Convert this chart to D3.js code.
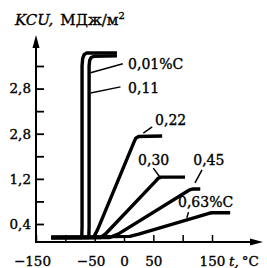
<!DOCTYPE html>
<html><head><meta charset="utf-8">
<script src="https://cdn.jsdelivr.net/npm/d3@7"></script>
<style>
html,body{margin:0;padding:0;background:#fff;}
svg{display:block;}
text{font-family:"DejaVu Serif",serif;fill:#000;stroke:#000;stroke-width:0.35px;}
</style></head>
<body>
<svg id="c" width="267" height="268"></svg>
<script>
// ---- data ----
const xTicks = [-150, -100, -50, 0, 50, 100, 150];
const xTickLabels = ["−150", "", "−50", "0", "50", "", "150"];
const yTicks = [0.4, 0.8, 1.2, 1.6, 2.0, 2.4, 2.8, 3.2];
const yTickLabels = ["0,4", "", "1,2", "", "2,8", "", "2,8", ""];

const c001 = [[-124,0.16],[-72,0.16],[-71.5,0.35],[-71.5,3.2],[-70.5,3.33],[-68,3.40],[-64,3.43],[-12,3.43]];
const c011 = [[-124,0.16],[-60,0.16],[-59.5,0.35],[-59.5,3.2],[-58.5,3.30],[-56,3.35],[-52,3.37],[-12,3.38]];
const c022 = [[-124,0.16],[-52,0.16],[-45,0.3],[17,1.85],[20,1.92],[25,1.95],[65,1.96]];
const c030 = [[-124,0.16],[-40,0.16],[-30,0.24],[54,1.16],[58,1.21],[63,1.23],[104,1.23]];
const c045 = [[-124,0.16],[-25,0.16],[-10,0.22],[108,0.98],[113,1.01],[118,1.02],[130,1.02]];
const c063 = [[-124,0.16],[10,0.18],[25,0.22],[145,0.59],[150,0.6],[181,0.6]];
const curves = [c001, c011, c022, c030, c045, c063];

const curveNames = ["0,01%C", "0,11", "0,22", "0,30", "0,45", "0,63%C"];
const labelAnchors = [[7,3.14],[7,2.72],[53,2.15],[24,1.45],[118,1.45],[92,0.70]];
const leaders = [
  [[-57,3.08],[-2,3.24]],
  [[-57,2.72],[-6,2.83]],
  [[33,2.01],[48,2.12]],
  [[50,1.39],[62,1.22]],
  [[133,1.36],[121,1.13]],
  [[107,0.51],[110,0.61]]
];

// ---- scales ----
const svg = d3.select("#c");
const x = d3.scaleLinear().domain([-150,150]).range([36,212]);
const y = d3.scaleLinear().domain([0.4,3.2]).range([224,66]);
const axisY = 242;

// axes lines with arrows
svg.append("line").attr("x1",x(-150)).attr("x2",x(-150)).attr("y1",axisY+1).attr("y2",44)
  .attr("stroke","#000").attr("stroke-width",2);
svg.append("path").attr("d",`M${x(-150)},35 L${x(-150)-3.5},48 L${x(-150)+3.5},48 Z`).attr("fill","#000");
svg.append("line").attr("x1",x(-150)-1).attr("x2",254).attr("y1",axisY).attr("y2",axisY)
  .attr("stroke","#000").attr("stroke-width",2);
svg.append("path").attr("d",`M263,${axisY} L250,${axisY-3.5} L250,${axisY+3.5} Z`).attr("fill","#000");

// y axis ticks
const gy = svg.append("g").attr("transform",`translate(${x(-150)},0)`)
  .call(d3.axisLeft(y).tickValues(yTicks).tickSizeInner(-8).tickSizeOuter(0).tickPadding(5)
    .tickFormat((d,i)=>yTickLabels[i]));
gy.select(".domain").remove();
gy.selectAll(".tick line").attr("stroke","#000").attr("stroke-width",1.8);
gy.selectAll(".tick text").attr("font-size","13.5px").attr("font-family","DejaVu Serif").attr("fill","#000");

// x axis ticks
const gx = svg.append("g").attr("transform",`translate(0,${axisY})`)
  .call(d3.axisBottom(x).tickValues(xTicks).tickSizeInner(-7).tickSizeOuter(0).tickPadding(14)
    .tickFormat((d,i)=>xTickLabels[i]));
gx.select(".domain").remove();
gx.selectAll(".tick line").attr("stroke","#000").attr("stroke-width",1.5);
gx.selectAll(".tick text").attr("font-size","13.5px").attr("font-family","DejaVu Serif").attr("fill","#000")
  .attr("dx",(d,i)=>xTickLabels[i].startsWith("−")?"-0.3em":0);

// axis titles
const t1 = svg.append("text").attr("x",15).attr("y",25).attr("font-size","15px");
t1.append("tspan").attr("font-style","italic").text("KCU,");
t1.append("tspan").attr("dx","7").text("МДж/м");
t1.append("tspan").attr("dy","-6").attr("font-size","10px").text("2");

const t2 = svg.append("text").attr("x",229).attr("y",266).attr("font-size","13.5px");
t2.append("tspan").attr("font-style","italic").text("t,");
t2.append("tspan").attr("dx","3").text("°C");

// curves
const line = d3.line().x(d=>x(d[0])).y(d=>y(d[1])).curve(d3.curveLinear);
svg.append("g").selectAll("path").data(curves).join("path")
  .attr("d",line).attr("fill","none").attr("stroke","#000").attr("stroke-width",3.4)
  .attr("stroke-linejoin","round").attr("stroke-linecap","butt");

// leaders
svg.append("g").selectAll("path").data(leaders).join("path")
  .attr("d",d3.line().x(d=>x(d[0])).y(d=>y(d[1]))).attr("fill","none")
  .attr("stroke","#000").attr("stroke-width",1.5);

// labels
svg.append("g").selectAll("text").data(curveNames).join("text")
  .attr("x",(d,i)=>x(labelAnchors[i][0])).attr("y",(d,i)=>y(labelAnchors[i][1]))
  .attr("font-size","14px").text(d=>d);
</script>
</body></html>
